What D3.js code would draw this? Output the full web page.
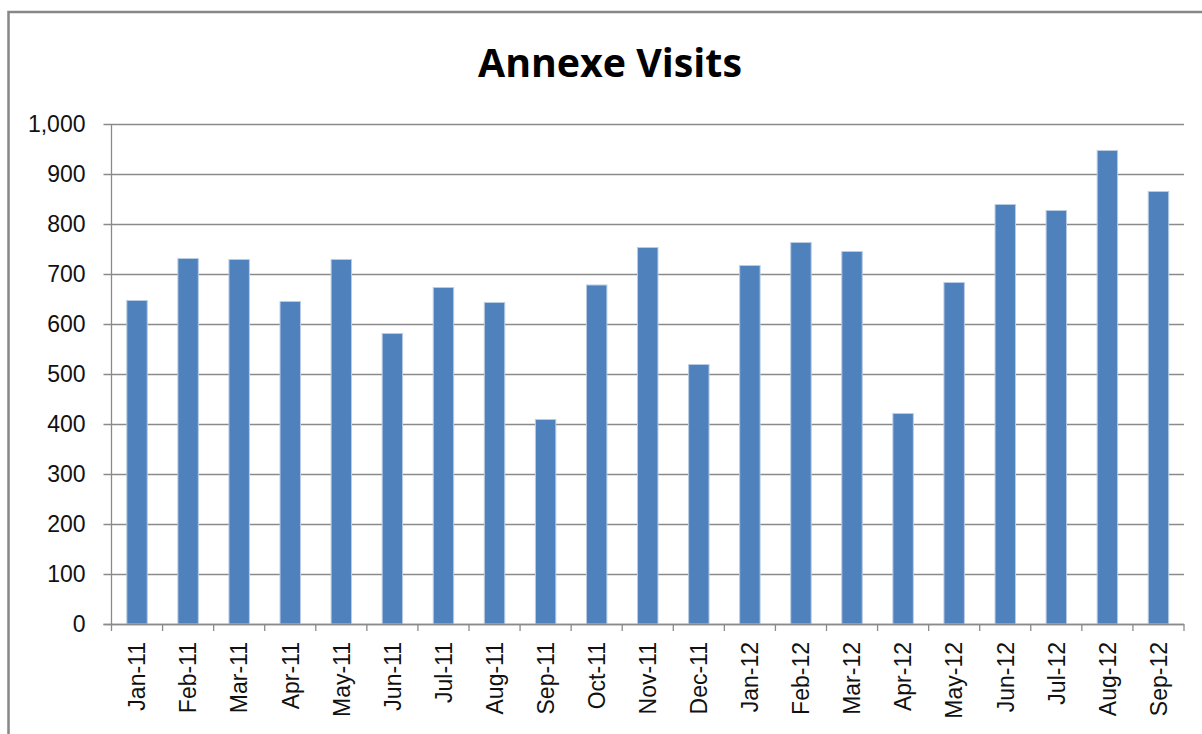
<!DOCTYPE html>
<html>
<head>
<meta charset="utf-8">
<script src="https://cdn.jsdelivr.net/npm/d3@7"></script>
<style>
  body { margin: 0; background: #fff; }
  text { font-family: "Liberation Sans", Arial, sans-serif; fill: #000; }
</style>
</head>
<body>
<div id="container"></div>
<script>
var months = ["Jan-11","Feb-11","Mar-11","Apr-11","May-11","Jun-11","Jul-11","Aug-11","Sep-11","Oct-11","Nov-11","Dec-11",
              "Jan-12","Feb-12","Mar-12","Apr-12","May-12","Jun-12","Jul-12","Aug-12","Sep-12"]
var visits = [647, 731, 729, 645, 729, 581, 673, 643, 409, 678, 753, 519,
              717, 763, 745, 421, 683, 839, 827, 947, 865]
var yTicks = [0, 100, 200, 300, 400, 500, 600, 700, 800, 900, 1000]

function drawChart() {
  var width = 1202
  var height = 734
  var left = 111.5, right = 1184, top = 124, bottom = 624

  var svg = d3.select("#container")
    .append("svg")
    .attr("width", width)
    .attr("height", height)

  // outer chart frame (runs off the window on right and bottom)
  svg.append("rect")
    .attr("x", 8.5)
    .attr("y", 12)
    .attr("width", 1220)
    .attr("height", 760)
    .attr("fill", "none")
    .attr("stroke", "#878787")
    .attr("stroke-width", 2.5)

  svg.append("text")
    .attr("x", 610)
    .attr("y", 77)
    .attr("text-anchor", "middle")
    .attr("textLength", 264)
    .attr("lengthAdjust", "spacingAndGlyphs")
    .style("font-family", "'Open Sans', 'Noto Sans', sans-serif")
    .style("font-weight", "bold")
    .style("font-size", "40px")
    .text("Annexe Visits")

  var x = d3.scaleBand()
    .domain(months)
    .range([left, right])
    .paddingInner(0.6)
    .paddingOuter(0.3)

  var y = d3.scaleLinear()
    .domain([0, 1000])
    .range([bottom, top])

  // gridlines
  svg.append("g")
    .selectAll("line")
    .data(yTicks)
    .enter()
    .append("line")
    .attr("x1", left - 8)
    .attr("x2", right)
    .attr("y1", (d) => Math.round(y(d)) + 0.5)
    .attr("y2", (d) => Math.round(y(d)) + 0.5)
    .attr("stroke", "#8a8a8a")
    .attr("stroke-width", 1.3)

  // y labels
  svg.append("g")
    .selectAll("text")
    .data(yTicks)
    .enter()
    .append("text")
    .attr("x", left - 26)
    .attr("y", (d) => y(d))
    .attr("dy", "0.36em")
    .attr("text-anchor", "end")
    .style("font-size", "23px")
    .style("fill", "#111")
    .text((d) => d3.format(",")(d))

  // bars
  svg.append("g")
    .selectAll("rect")
    .data(visits)
    .enter()
    .append("rect")
    .attr("x", (d, i) => x(months[i]))
    .attr("y", (d) => y(d))
    .attr("width", x.bandwidth())
    .attr("height", (d) => y(0) - y(d))
    .attr("fill", "#4f81bd")
    .attr("stroke", "#b8cce4")
    .attr("stroke-width", 1)

  // axes lines
  svg.append("line")
    .attr("x1", left).attr("x2", left)
    .attr("y1", top).attr("y2", bottom + 7)
    .attr("stroke", "#8a8a8a").attr("stroke-width", 1.3)
  svg.append("line")
    .attr("x1", left - 8).attr("x2", right)
    .attr("y1", bottom + 0.5).attr("y2", bottom + 0.5)
    .attr("stroke", "#8a8a8a").attr("stroke-width", 1.5)

  // x tick marks at category boundaries
  svg.append("g")
    .selectAll("line")
    .data(months)
    .enter()
    .append("line")
    .attr("x1", (d) => x(d) - x.step() * 0.3 + x.step())
    .attr("x2", (d) => x(d) - x.step() * 0.3 + x.step())
    .attr("y1", bottom)
    .attr("y2", bottom + 7)
    .attr("stroke", "#8a8a8a")
    .attr("stroke-width", 1.3)

  // x labels, rotated
  svg.append("g")
    .selectAll("text")
    .data(months)
    .enter()
    .append("text")
    .attr("transform", (d) => "translate(" + (x(d) + x.bandwidth() / 2) + "," + (bottom + 18) + ") rotate(-90)")
    .attr("dy", "0.36em")
    .attr("text-anchor", "end")
    .style("font-size", "23px")
    .style("fill", "#111")
    .text((d) => d)
}

drawChart()
</script>
</body>
</html>
